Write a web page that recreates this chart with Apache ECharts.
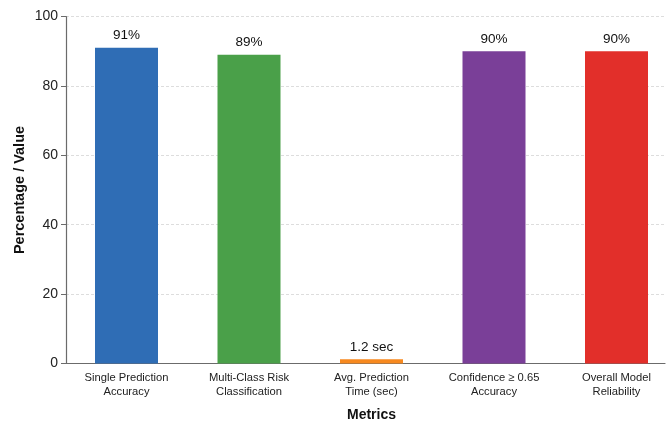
<!DOCTYPE html>
<html>
<head>
<meta charset="utf-8">
<script src="https://cdn.jsdelivr.net/npm/echarts@6/dist/echarts.min.js"></script>
<style>
  html, body { margin: 0; padding: 0; background: #ffffff; }
  #chart { width: 668px; height: 423px; }
</style>
</head>
<body>
<div id="chart"></div>
<script>
// Metric names (two-line axis labels)
const categories = [
  'Single Prediction\nAccuracy',
  'Multi-Class Risk\nClassification',
  'Avg. Prediction\nTime (sec)',
  'Confidence \u2265 0.65\nAccuracy',
  'Overall Model\nReliability'
];
// Measured values
const values = [91, 89, 1.2, 90, 90];
// Unit shown after each value in its label
const units = ['%', '%', ' sec', '%', '%'];
const barColors = ['#2f6db5', '#4aa049', '#f7891f', '#7a3f98', '#e22f2a'];
const yTicks = [0, 20, 40, 60, 80, 100];

const FONT = '"Liberation Sans", Arial, Helvetica, sans-serif';
const chart = echarts.init(document.getElementById('chart'), null, { renderer: 'canvas' });

const plotTop = 16.5, plotBottom = 59.5;

chart.setOption({
  backgroundColor: '#ffffff',
  animation: false,
  textStyle: { fontFamily: FONT },
  grid: [
    // frame: y axis, gridlines, baseline
    { left: 66, right: 3, top: plotTop, bottom: plotBottom, containLabel: false, outerBoundsMode: 'none' },
    // bars and their category labels
    { left: 65.25, width: 612.5, top: plotTop, bottom: plotBottom, containLabel: false, outerBoundsMode: 'none' }
  ],
  xAxis: [
    {
      gridIndex: 0, type: 'value', min: 0, max: 1,
      axisLine: { show: true, lineStyle: { color: '#6b6b6b', width: 1.2 } },
      axisTick: { show: false }, axisLabel: { show: false }, splitLine: { show: false }
    },
    {
      gridIndex: 1, type: 'category', data: categories,
      axisLine: { show: false }, axisTick: { show: false },
      axisLabel: { color: '#222', fontSize: 11.2, lineHeight: 14, margin: 7, interval: 0, fontFamily: FONT },
      name: 'Metrics', nameLocation: 'middle', nameGap: 45, nameMoveOverlap: false,
      nameTextStyle: { color: '#111', fontSize: 14, fontWeight: 'bold', fontFamily: FONT }
    }
  ],
  yAxis: [
    {
      gridIndex: 0, type: 'value', min: yTicks[0], max: yTicks[yTicks.length - 1], interval: yTicks[1] - yTicks[0],
      axisLine: { show: true, lineStyle: { color: '#6b6b6b', width: 1.2 } },
      axisTick: { show: true, length: 5, lineStyle: { color: '#6b6b6b' } },
      axisLabel: { color: '#222', fontSize: 14, margin: 8, fontFamily: FONT },
      splitLine: { show: true, lineStyle: { color: '#d4d4d4', type: [3, 2], width: 0.8 } },
      name: 'Percentage / Value', nameLocation: 'middle', nameGap: 39, nameRotate: 90, nameMoveOverlap: false,
      nameTextStyle: { color: '#111', fontSize: 14.5, fontWeight: 'bold', fontFamily: FONT }
    },
    {
      gridIndex: 1, type: 'value', min: yTicks[0], max: yTicks[yTicks.length - 1], show: false
    }
  ],
  series: [{
    type: 'bar',
    xAxisIndex: 1, yAxisIndex: 1,
    barWidth: 63,
    data: values.map((v, i) => ({ value: v, itemStyle: { color: barColors[i] } })),
    label: {
      show: true, position: 'top', distance: 5,
      color: '#111', fontSize: 13.5, fontFamily: FONT,
      formatter: p => p.value + units[p.dataIndex]
    }
  }]
});
</script>
</body>
</html>
